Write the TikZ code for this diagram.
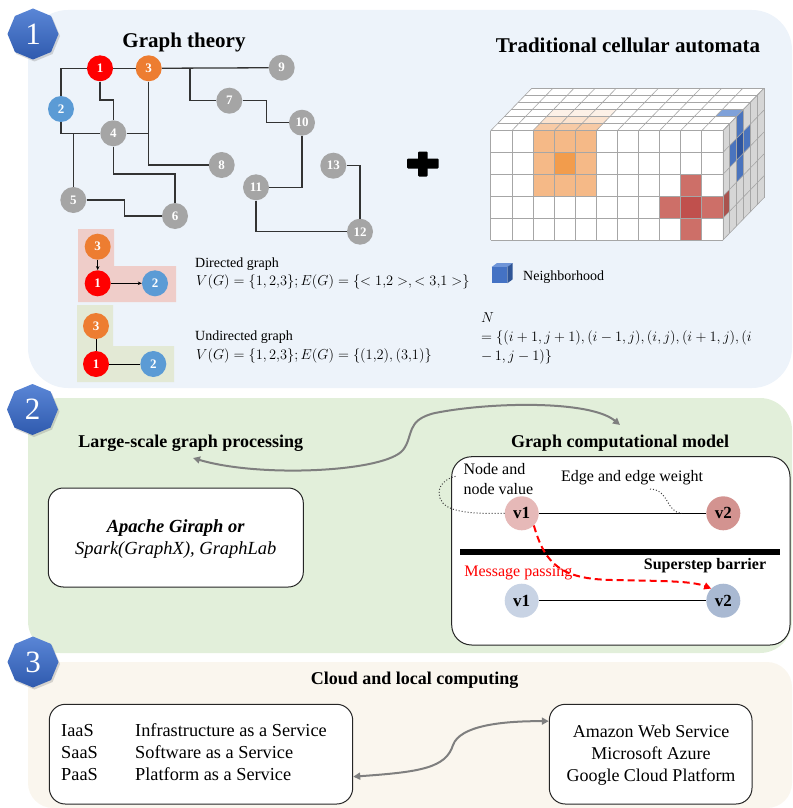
\documentclass[tikz,border=0pt]{standalone}
\usepackage{fontspec}
\setmainfont{Liberation Serif}
\usetikzlibrary{shapes.geometric,arrows.meta,calc,shadows}
\definecolor{pone}{HTML}{EDF3FA}
\definecolor{ptwo}{HTML}{E2EFDA}
\definecolor{pthree}{HTML}{FAF6EE}
\definecolor{badgetop}{HTML}{5A86D6}
\definecolor{badgebot}{HTML}{2F5AAE}
\definecolor{nred}{HTML}{FF0000}
\definecolor{norange}{HTML}{ED7D31}
\definecolor{nblue}{HTML}{5B9BD5}
\definecolor{ngray}{HTML}{A5A5A5}
\definecolor{dirbg}{HTML}{EFCDC9}
\definecolor{undbg}{HTML}{E3E9D5}
\definecolor{cagray}{HTML}{A6A6A6}
\definecolor{caside}{HTML}{D6D6D6}
\definecolor{orl}{HTML}{F5B987}
\definecolor{ord}{HTML}{F29C4C}
\definecolor{redl}{HTML}{CD6F68}
\definecolor{redd}{HTML}{C0504D}
\definecolor{reds}{HTML}{A9534E}
\definecolor{bluel}{HTML}{7FA1D9}
\definecolor{bluem}{HTML}{4A74BE}
\definecolor{blued}{HTML}{2F56A0}
\definecolor{cubetop}{HTML}{6F95D8}
\definecolor{cubeside}{HTML}{2F5597}
\definecolor{cubefront}{HTML}{4472C4}
\definecolor{arrowgray}{HTML}{7F7F7F}
\definecolor{vonet}{HTML}{E6B9B8}
\definecolor{vtwot}{HTML}{D39390}
\definecolor{voneb}{HTML}{C8D3E4}
\definecolor{vtwob}{HTML}{A9B9D2}
\newcommand\cax{490.7}
\newcommand\cay{130.7}
\newcommand\caw{21.1}
\newcommand\cah{21.9}
\newcommand\cadx{6.85}
\newcommand\cady{7.07}
\newcommand\cafront[3]{\fill[#1] ({\cax+#2*\caw},{\cay+#3*\cah}) rectangle ++(\caw,\cah);}
\newcommand\catop[3]{\fill[#1] ({\cax+#2*\caw+#3*\cadx},{\cay-#3*\cady}) -- ++(\caw,0) -- ++(\cadx,-\cady) -- ++(-\caw,0) -- cycle;}
\newcommand\caside[3]{\fill[#1] ({\cax+11*\caw+#2*\cadx},{\cay+#3*\cah-#2*\cady}) -- ++(\cadx,-\cady) -- ++(0,\cah) -- ++(-\cadx,\cady) -- cycle;}
\begin{document}
\begin{tikzpicture}[x=1pt,y=-1pt,
  badge/.style={regular polygon, regular polygon sides=8, shape border rotate=22.5, minimum size=51pt, inner sep=0pt, top color=badgetop, bottom color=badgebot, draw=none, text=white, font=\fontsize{31}{31}\selectfont, drop shadow={opacity=0.3,shadow xshift=1.5pt,shadow yshift=-2pt}},
  gnode/.style={circle, minimum size=26pt, inner sep=0pt, text=white, font=\bfseries\fontsize{13}{13}\selectfont},
  gedge/.style={draw=black!80, line width=1.3pt},
  ttl/.style={inner sep=0pt, font=\bfseries\fontsize{21}{24}\selectfont},
  ttlb/.style={inner sep=0pt, font=\bfseries\fontsize{18}{21}\selectfont},
  txt/.style={inner sep=0pt, anchor=west, font=\fontsize{14}{17}\selectfont},
  fml/.style={inner sep=0pt, anchor=west, font=\fontsize{13.3}{16}\selectfont},
  cagrid/.style={draw=cagray, line width=0.6pt},
  vnode/.style={circle, minimum size=34pt, inner sep=0pt, font=\bfseries\fontsize{17}{17}\selectfont},
  rbox/.style={draw=black!85, line width=1pt, rounded corners=16pt, fill=white, inner sep=0pt},
  garrow/.style={draw=arrowgray, line width=2pt, {Triangle[length=7pt,width=7pt]}-{Triangle[length=7pt,width=7pt]}},
  dotl/.style={dotted, line width=1pt, draw=black!75}
]
\useasboundingbox (0,0) rectangle (792,808);
% panels
\fill[pone, rounded corners=40pt] (28,10) rectangle (792,388);
\fill[ptwo, rounded corners=32pt] (28,398) rectangle (792,653);
\fill[pthree, rounded corners=25pt] (28,662) rectangle (792,808);
% badges
\node[badge] (b1) at (33,34) {1};
\node[badge] (b2) at (32.5,409.5) {2};
\node[badge] (b3) at (33,662) {3};
% ---- panel 1 : graph theory
\node[ttl] (t1) at (184,42) {Graph theory};
\node[gnode,fill=nred] (n1) at (100,68.3) {1};
\node[gnode,fill=norange] (n3) at (148.7,68.3) {3};
\node[gnode,fill=ngray] (n9) at (281.7,67.7) {9};
\node[gnode,fill=nblue] (n2) at (61,109) {2};
\node[gnode,fill=ngray] (n7) at (229.3,100.7) {7};
\node[gnode,fill=ngray] (n10) at (302,122.7) {10};
\node[gnode,fill=ngray] (n4) at (113.3,133.3) {4};
\node[gnode,fill=ngray] (n8) at (221.7,165) {8};
\node[gnode,fill=ngray] (n13) at (333.3,165.7) {13};
\node[gnode,fill=ngray] (n11) at (256,187.3) {11};
\node[gnode,fill=ngray] (n5) at (73.3,200) {5};
\node[gnode,fill=ngray] (n6) at (175,216) {6};
\node[gnode,fill=ngray] (n12) at (360,231.7) {12};
\coordinate (j1) at (190,68.3);
\coordinate (c710) at (266.7,110);
\coordinate (c14) at (113.3,100);
\coordinate (j5) at (73.3,133.3);
\coordinate (j8) at (148.7,133.3);
\coordinate (c46) at (175,174);
\coordinate (c56) at (124.3,208);
\draw[gedge] (n2) |- (n1);
\draw[gedge] (n1) -- (n3);
\draw[gedge] (n3) -- (n9);
\draw[gedge] (j1) |- (n7);
\draw[gedge] (n7) -| (c710) |- (n10);
\draw[gedge] (n1) |- (c14) -- (n4);
\draw[gedge] (n2) |- (n4);
\draw[gedge] (j5) -- (n5);
\draw[gedge] (n4) -- (j8);
\draw[gedge] (n3) |- (n8);
\draw[gedge] (n4) |- (c46) -- (n6);
\draw[gedge] (n5) -| (c56) |- (n6);
\draw[gedge] (n10) |- (n11);
\draw[gedge] (n11) |- (n12);
\draw[gedge] (n13) -| (n12);
% small graphs
\fill[dirbg] (78,229) -- (114,229) -- (114,266) -- (176,266) -- (176,302) -- (78,302) -- cycle;
\fill[undbg] (77,305) -- (113,305) -- (113,346) -- (174,346) -- (174,382) -- (77,382) -- cycle;
\node[gnode,fill=norange] (d3) at (97.7,246.7) {3};
\node[gnode,fill=nred] (d1) at (97.7,283.3) {1};
\node[gnode,fill=nblue] (d2) at (155,283.3) {2};
\draw[line width=0.9pt,-{Stealth[length=4pt,width=3.5pt]}] (d3) -- (d1);
\draw[line width=0.9pt,-{Stealth[length=4pt,width=3.5pt]}] (d1) -- (d2);
\node[gnode,fill=norange] (u3) at (96,326) {3};
\node[gnode,fill=nred] (u1) at (96,364) {1};
\node[gnode,fill=nblue] (u2) at (153.3,364) {2};
\draw[line width=0.9pt] (u3) -- (u1);
\draw[line width=0.9pt] (u1) -- (u2);
\node[txt] (dt) at (195,264) {Directed graph};
\node[fml] (df) at (196,282) {$V(G)=\{1,2{,}3\};E(G)=\{<1{,}2>,<3{,}1>\}$};
\node[txt] (ut) at (195,337) {Undirected graph};
\node[fml] (uf) at (196,356) {$V(G)=\{1,2{,}3\};E(G)=\{(1{,}2),(3{,}1)\}$};
% plus
\fill[black, rounded corners=1pt] (407,158.5) rectangle (438.5,168.5);
\fill[black, rounded corners=1pt] (418,151.5) rectangle (427.5,176.5);
% cellular automata
\node[ttl] (t2) at (628,45) {Traditional cellular automata};
\fill[white] (\cax,\cay) rectangle ++({11*\caw},{5*\cah});
\fill[white] (\cax,\cay) -- ++({11*\caw},0) -- ++({6*\cadx},{-6*\cady}) -- ++({-11*\caw},0) -- cycle;
\fill[caside] ({\cax+11*\caw},\cay) -- ++({6*\cadx},{-6*\cady}) -- ++(0,{5*\cah}) -- ++({-6*\cadx},{6*\cady}) -- cycle;
\foreach \c in {2,3,4}{\foreach \r in {0,1,2}{\cafront{orl}{\c}{\r}}}
\cafront{ord}{3}{1}
\foreach \c in {2,3,4}{\catop{orl,opacity=0.75}{\c}{0}\catop{orl,opacity=0.4}{\c}{1}\catop{orl,opacity=0.2}{\c}{2}}
\cafront{redl}{9}{2}\cafront{redl}{8}{3}\cafront{redl}{10}{3}\cafront{redl}{9}{4}
\cafront{redd}{9}{3}
\caside{reds}{0}{3}
\catop{bluel}{10}{2}
\caside{bluem}{2}{0}\caside{bluem}{1}{1}\caside{bluem}{3}{1}\caside{bluem}{2}{2}
\caside{blued}{2}{1}
\foreach \c in {0,...,11}{\draw[cagrid] ({\cax+\c*\caw},\cay) -- ++(0,{5*\cah});
  \draw[cagrid] ({\cax+\c*\caw},\cay) -- ++({6*\cadx},{-6*\cady});}
\foreach \r in {0,...,5}{\draw[cagrid] (\cax,{\cay+\r*\cah}) -- ++({11*\caw},0);
  \draw[cagrid] ({\cax+11*\caw},{\cay+\r*\cah}) -- ++({6*\cadx},{-6*\cady});}
\foreach \k in {0,...,6}{\draw[cagrid] ({\cax+\k*\cadx},{\cay-\k*\cady}) -- ++({11*\caw},0);
  \draw[cagrid] ({\cax+11*\caw+\k*\cadx},{\cay-\k*\cady}) -- ++(0,{5*\cah});}
% neighborhood cube
\fill[cubetop] (491.7,267) -- (507.3,267) -- (512.7,263) -- (497,263) -- cycle;
\fill[cubeside] (507.3,267) -- (512.7,263) -- (512.7,279.3) -- (507.3,283.3) -- cycle;
\fill[cubefront] (491.7,267) rectangle (507.3,283.3);
\node[txt] (nb) at (523,277) {Neighborhood};
\node[txt] (nf1) at (481,318) {$N$};
\node[txt] (nf2) at (481,338) {$=\{(i+1,j+1),(i-1,j),(i,j),(i+1,j),(i$};
\node[txt] (nf3) at (481,357) {$-\,1,j-1)\}$};
% ---- panel 2
\node[ttlb] (t3) at (190.7,443) {Large-scale graph processing};
\node[ttlb] (t4) at (620,443) {Graph computational model};
\coordinate (ga) at (193,458);
\coordinate (gb) at (620,425);
\draw[garrow] (ga) .. controls (260,478) and (385,472) .. (403,450) .. controls (414,436) and (405,420) .. (435,413) .. controls (490,402) and (590,400) .. (gb);
\node[rbox, rounded corners=15pt, minimum width=255pt, minimum height=99pt] (abox) at (175.8,537.5) {};
\node[inner sep=0pt, align=center, font=\fontsize{18.5}{22.7}\selectfont] (atext) at (175.8,539) {\textbf{\textit{Apache Giraph or}}\\\textit{Spark(GraphX), GraphLab}};
\node[rbox, rounded corners=20pt, minimum width=338.3pt, minimum height=188.3pt] (mbox) at (620.85,550.85) {};
\node[vnode, fill=vonet] (v1t) at (521.7,513.3) {v1};
\node[vnode, fill=vtwot] (v2t) at (723.3,513.3) {v2};
\draw[line width=1pt] (v1t) -- (v2t);
\node[vnode, fill=voneb] (v1b) at (521.7,600.7) {v1};
\node[vnode, fill=vtwob] (v2b) at (723.3,600.7) {v2};
\draw[line width=1pt] (v1b) -- (v2b);
\node[inner sep=0pt, anchor=west, align=left, font=\fontsize{16}{20}\selectfont] (nv) at (463.3,479.3) {Node and\\node value};
\node[inner sep=0pt, anchor=west, font=\fontsize{16}{20}\selectfont] (ew) at (561,477.3) {Edge and edge weight};
\coordinate (nve) at (457,476);
\coordinate (ews) at (650,489);
\coordinate (ewe) at (682,513.3);
\draw[dotl] (v1t.west) .. controls (470,514) and (444,512) .. (440,498) .. controls (436,486) and (446,478) .. (nve);
\draw[dotl] (ews) .. controls (670,490) and (665,512) .. (ewe);
\coordinate (sb1) at (460,551.7);
\coordinate (sb2) at (780,551.7);
\draw[line width=6pt] (sb1) -- (sb2);
\node[inner sep=0pt, font=\bfseries\fontsize{16}{20}\selectfont] (sbt) at (705,565.5) {Superstep barrier};
\node[inner sep=0pt, text=nred, font=\fontsize{16}{20}\selectfont] (mp) at (518.3,572.7) {Message passing};
\draw[nred, line width=2pt, dash pattern=on 7pt off 4pt, -{Triangle[length=7pt,width=7pt]}] (v1t.south east) .. controls (545,565) and (562,579) .. (612,580) .. controls (665,581) and (692,581) .. (v2b.north west);
% ---- panel 3
\node[ttlb] (t5) at (414.7,680.5) {Cloud and local computing};
\node[rbox, minimum width=303.4pt, minimum height=99.7pt] (lbox) at (201,754.15) {};
\node[rbox, minimum width=202.7pt, minimum height=99.7pt] (rbx) at (650.65,754.15) {};
\node[inner sep=0pt, anchor=west, font=\fontsize{18.3}{22}\selectfont] (ltext) at (61,754.5) {\begin{tabular}{@{}p{74pt}@{}l@{}}IaaS & Infrastructure as a Service\\ SaaS & Software as a Service\\ PaaS & Platform as a Service\end{tabular}};
\node[inner sep=0pt, align=center, font=\fontsize{18}{22}\selectfont] (rtext) at (651,755.5) {Amazon Web Service\\Microsoft Azure\\Google Cloud Platform};
\coordinate (la) at ([yshift=-22.5pt]lbox.east);
\coordinate (ra) at ([yshift=33pt]rbx.west);
\draw[garrow] (la) .. controls (420,772) and (446,768) .. (453,745) .. controls (460,726) and (500,721) .. (ra);
\end{tikzpicture}
\end{document}
